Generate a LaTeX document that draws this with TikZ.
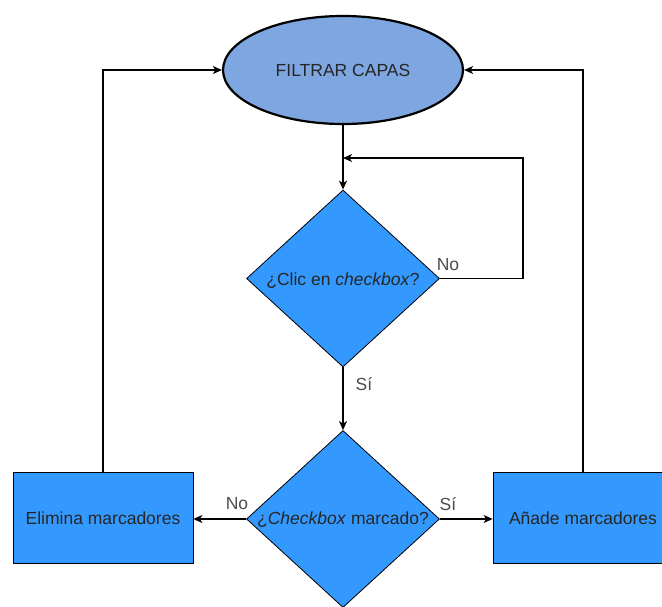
\documentclass[tikz,border=0pt]{standalone}
\usepackage{fontspec}
\setmainfont{Liberation Sans}
\usetikzlibrary{shapes.geometric, arrows.meta, positioning}
\definecolor{startblue}{RGB}{126,166,224}
\definecolor{stepblue}{RGB}{51,153,255}

\begin{document}
\begin{tikzpicture}[x=1pt,y=-1pt,
  every node/.style={font=\fontsize{17.5}{21}\selectfont, text=black!85},
  startnode/.style={ellipse, draw, line width=2.2pt, fill=startblue, minimum width=240, minimum height=108, inner sep=0},
  decision/.style={diamond, draw, line width=0.8pt, fill=stepblue, minimum width=193, minimum height=177, inner sep=0},
  stepbox/.style={rectangle, draw, line width=0.8pt, fill=stepblue, minimum width=180, minimum height=91, inner sep=0},
  lbl/.style={text=black!70},
  arrow/.style={draw, line width=1.25pt, -{Stealth[length=9pt,width=8pt,inset=2.5pt]}}]
\fill [white] (0,0) rectangle (662,606);
\useasboundingbox (0,0) rectangle (662,606);
\node [startnode] (filtrar) at (343,70)  {FILTRAR CAPAS};
\node [decision] (clic) at (343,278.5)  {};
\node (clictext) at (343,281)  {¿Clic en \textit{checkbox}?};
\node [decision] (marcado) at (343,519)  {};
\node (marcadotext) at (343,520)  {¿\textit{Checkbox} marcado?};
\node [stepbox] (elimina) at (103,518)  {Elimina marcadores};
\node [stepbox] (anade) at (583,518)  {Añade marcadores};
\coordinate (looptop) at (523,158);
\coordinate (loopend) at (343,158);
\draw [arrow] (filtrar.south) -- (clic.north);
\draw [arrow] (clic.east) -| (looptop) -- (loopend);
\node [lbl] (clicno) at (448,265)  {No};
\draw [arrow] (clic.south) -- (marcado.north);
\node [lbl] (clicsi) at (364,384)  {Sí};
\draw [arrow] (marcado.west) -- (marcado.west -| elimina.east);
\node [lbl] (marcadono) at (237,504)  {No};
\draw [arrow] (marcado.east) -- (marcado.east -| anade.west);
\node [lbl] (marcadosi) at (448,504)  {Sí};
\draw [arrow] (elimina.north) |- (filtrar.west);
\draw [arrow] (anade.north) |- (filtrar.east);
\end{tikzpicture}
\end{document}
